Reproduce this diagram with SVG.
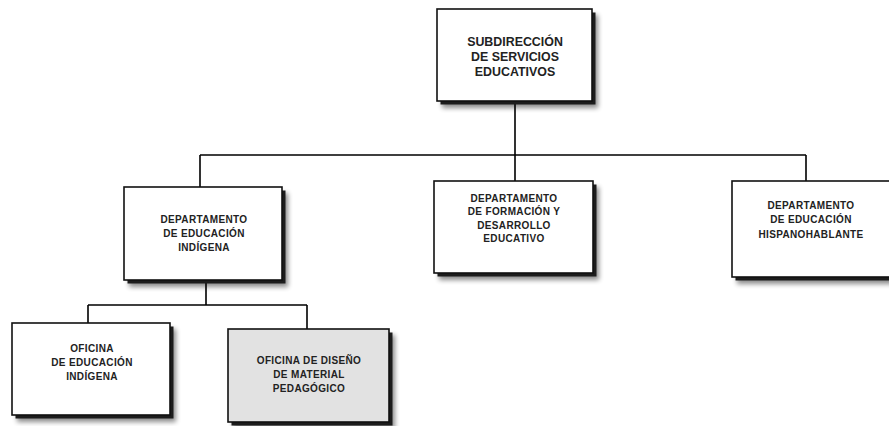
<svg xmlns="http://www.w3.org/2000/svg" width="889" height="426" viewBox="0 0 889 426">
<style>
.shadow{fill:#000;opacity:.45;filter:url(#blur)}
.edge{fill:#1c1c1c}
.box{fill:#fff;stroke:#111;stroke-width:1.6}
.grey{fill:#e2e2e2}
.t{font-family:"Liberation Sans",Arial,sans-serif;font-weight:bold;fill:#222;text-anchor:middle}
.big{font-size:12.4px}
.sm{font-size:10px;letter-spacing:.35px}
.conn{fill:none;stroke:#000;stroke-width:1.6}
</style>
<defs><filter id="blur" x="-10%" y="-10%" width="130%" height="130%"><feGaussianBlur stdDeviation="2.5"/></filter></defs>
<rect width="889" height="426" fill="#fff"/>
<g id="connectors">
<path class="conn" d="M515,104 V155 M200,155 H806 M200,155 V187 M515,155 V181 M806,155 V181"/>
<path class="conn" d="M206,283 V305 M88,305 H307 M88,305 V323 M307,305 V329"/>
</g>
<g id="n-subdireccion">
<rect class="shadow" x="442" y="15" width="156" height="93"/>
<rect class="edge" x="440.5" y="12.5" width="155" height="92"/>
<rect class="box" x="437" y="9" width="155" height="92"/>
<text class="t big" x="515" y="46">SUBDIRECCIÓN</text>
<text class="t big" x="515" y="61">DE SERVICIOS</text>
<text class="t big" x="515" y="76">EDUCATIVOS</text>
</g>
<g id="n-indigena">
<rect class="shadow" x="129" y="193" width="159" height="94"/>
<rect class="edge" x="127.5" y="190.5" width="158" height="93"/>
<rect class="box" x="124" y="187" width="158" height="93"/>
<text class="t sm" x="204" y="223">DEPARTAMENTO</text>
<text class="t sm" x="204" y="237">DE EDUCACIÓN</text>
<text class="t sm" x="204" y="251">INDÍGENA</text>
</g>
<g id="n-formacion">
<rect class="shadow" x="439" y="187" width="160" height="93"/>
<rect class="edge" x="437.5" y="184.5" width="159" height="92"/>
<rect class="box" x="434" y="181" width="159" height="92"/>
<text class="t sm" x="514" y="202">DEPARTAMENTO</text>
<text class="t sm" x="514" y="215">DE FORMACIÓN Y</text>
<text class="t sm" x="514" y="228.5">DESARROLLO</text>
<text class="t sm" x="514" y="242">EDUCATIVO</text>
</g>
<g id="n-hispanohablante">
<rect class="shadow" x="737" y="187" width="170" height="97"/>
<rect class="edge" x="735.5" y="184.5" width="170" height="96"/>
<rect class="box" x="732" y="181" width="170" height="96"/>
<text class="t sm" x="811" y="209">DEPARTAMENTO</text>
<text class="t sm" x="811" y="223">DE EDUCACIÓN</text>
<text class="t sm" x="811" y="237.5">HISPANOHABLANTE</text>
</g>
<g id="n-oficina-indigena">
<rect class="shadow" x="17" y="329" width="159" height="93"/>
<rect class="edge" x="15.5" y="326.5" width="158" height="92"/>
<rect class="box" x="12" y="323" width="158" height="92"/>
<text class="t sm" x="92" y="352">OFICINA</text>
<text class="t sm" x="92" y="366">DE EDUCACIÓN</text>
<text class="t sm" x="92" y="380">INDÍGENA</text>
</g>
<g id="n-oficina-diseno">
<rect class="shadow" x="233" y="335" width="162" height="94"/>
<rect class="edge" x="231.5" y="332.5" width="161" height="93"/>
<rect class="box grey" x="228" y="329" width="161" height="93"/>
<text class="t sm" x="309" y="364">OFICINA DE DISEÑO</text>
<text class="t sm" x="309" y="378">DE MATERIAL</text>
<text class="t sm" x="309" y="392">PEDAGÓGICO</text>
</g>
</svg>
